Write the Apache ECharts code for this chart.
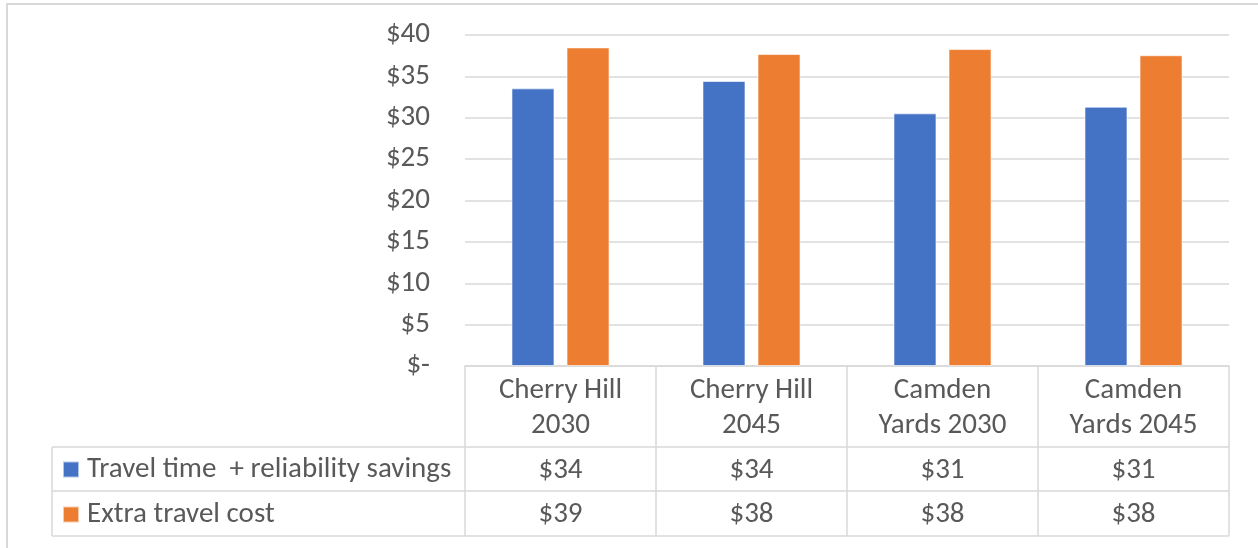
<!DOCTYPE html>
<html>
<head>
<meta charset="utf-8">
<script src="https://cdn.jsdelivr.net/npm/echarts@6/dist/echarts.min.js"></script>
<style>
  html, body { margin: 0; padding: 0; background: #fff; }
  #chart { width: 1258px; height: 548px; }
</style>
</head>
<body>
<div id="chart"></div>
<script>
// categories and series
const categories = ['Cherry Hill\n2030', 'Cherry Hill\n2045', 'Camden\nYards 2030', 'Camden\nYards 2045']
const seriesNames = ['Travel time  + reliability savings', 'Extra travel cost']
const savings = [33.55, 34.44, 30.53, 31.33]
const extraCost = [38.5, 37.7, 38.3, 37.55]
const yTicks = [0, 5, 10, 15, 20, 25, 30, 35, 40]

const font = 'Carlito, Lato, sans-serif'
const fontSize = 29
const textColor = '#595959'
const lineColor = '#d9d9d9'
const colors = ['#4472C4', '#ED7D31']

// data table frame below the plot
const tableLeft = 52
const tableRight = 1229
const rowLines = [447, 491, 536]

const money = (v) => '$' + Math.round(v)

// extra category axes carry the data-table rows
function tableAxis(values, margin) {
  return {
    type: 'category',
    data: categories,
    position: 'bottom',
    axisLine: { show: false },
    axisTick: { show: false },
    axisLabel: {
      interval: 0,
      margin: margin,
      verticalAlign: 'middle',
      fontFamily: font,
      fontSize: fontSize,
      color: textColor,
      formatter: (value, index) => money(values[index]),
    },
  }
}

const chart = echarts.init(document.getElementById('chart'))

const option = {
  animation: false,
  color: colors,
  grid: {
    left: 465,
    right: 29,
    top: 35,
    bottom: 182,
  },
  legend: {
    orient: 'vertical',
    left: 57,
    top: 449,
    icon: 'rect',
    itemWidth: 16,
    itemHeight: 16,
    itemGap: 14,
    selectedMode: false,
    textStyle: {
      fontFamily: font,
      fontSize: fontSize,
      lineHeight: 31,
      color: textColor,
      padding: [0, 0, 0, 3],
    },
    data: seriesNames,
  },
  xAxis: [
    {
      type: 'category',
      data: categories,
      axisLine: { lineStyle: { color: lineColor, width: 1.5 } },
      axisTick: {
        show: true,
        length: rowLines[2] - 366,
        lineStyle: { color: lineColor, width: 1.5 },
      },
      axisLabel: {
        interval: 0,
        margin: 42,
        verticalAlign: 'middle',
        lineHeight: 35,
        fontFamily: font,
        fontSize: fontSize,
        color: textColor,
      },
    },
    tableAxis(savings, 105),
    tableAxis(extraCost, 149),
  ],
  yAxis: {
    type: 'value',
    min: 0,
    max: 40,
    interval: 5,
    axisLine: { show: false },
    axisTick: { show: false },
    splitLine: { lineStyle: { color: lineColor, width: 1.5 } },
    axisLabel: {
      margin: 35,
      fontFamily: font,
      fontSize: fontSize,
      color: textColor,
      formatter: (v) => (v === 0 ? '$-' : '$' + v),
      customValues: yTicks,
    },
  },
  series: [
    {
      name: seriesNames[0],
      type: 'bar',
      data: savings,
      barWidth: 43,
      barGap: '28%',
      itemStyle: { borderColor: 'rgba(255,255,255,0.6)', borderWidth: 1 },
    },
    {
      name: seriesNames[1],
      type: 'bar',
      data: extraCost,
      barWidth: 43,
      itemStyle: { borderColor: 'rgba(255,255,255,0.6)', borderWidth: 1 },
    },
  ],
  graphic: [
    // outer chart frame
    {
      type: 'rect',
      silent: true,
      shape: { x: 7, y: 4, width: 1300, height: 600 },
      style: { fill: 'none', stroke: lineColor, lineWidth: 2 },
    },
    // data table grid
    ...rowLines.map((y) => ({
      type: 'line',
      silent: true,
      shape: { x1: tableLeft, y1: y, x2: tableRight, y2: y },
      style: { stroke: lineColor, lineWidth: 1.5 },
    })),
    {
      type: 'line',
      silent: true,
      shape: { x1: tableLeft, y1: rowLines[0], x2: tableLeft, y2: rowLines[2] },
      style: { stroke: lineColor, lineWidth: 1.5 },
    },
  ],
}

chart.setOption(option)
</script>
</body>
</html>
